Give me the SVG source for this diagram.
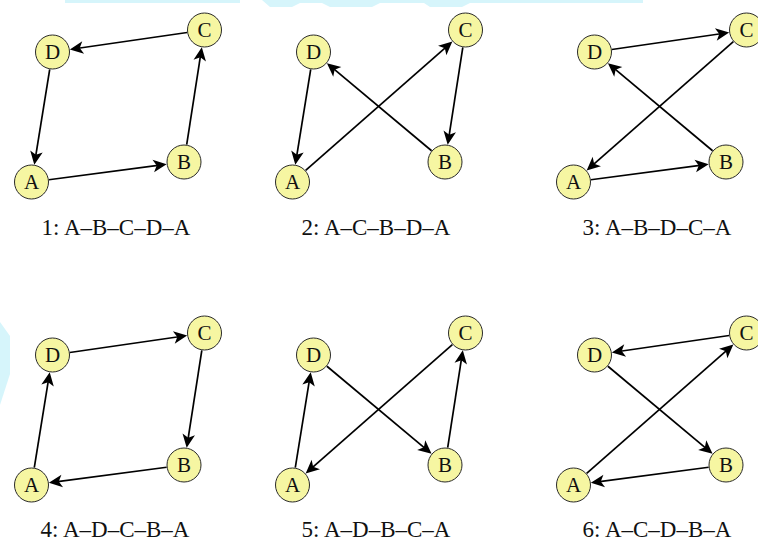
<svg xmlns="http://www.w3.org/2000/svg" width="758" height="543" viewBox="0 0 758 543">
  <style>
    .node circle { fill: #f6f6a2; stroke: #2a2a2a; stroke-width: 1; }
    .node text { font-family: "Liberation Serif", "DejaVu Serif", serif; font-size: 21px; fill: #111; text-anchor: middle; }
    .edges line { stroke: #000; stroke-width: 1.7; fill: none; marker-end: url(#stealth); }
    .caption { font-family: "Liberation Serif", "DejaVu Serif", serif; font-size: 23px; fill: #111; text-anchor: middle; }
    .wash { fill: #d6f5fb; }
  </style>
  <defs>
    <marker id="stealth" viewBox="0 -8 16 16" refX="9" refY="0" markerWidth="16" markerHeight="16" markerUnits="userSpaceOnUse" orient="auto">
      <path d="M14,0 L0.5,-6.3 L4,0 L0.5,6.3 Z" fill="#000"/>
    </marker>
    <!-- the four vertices, shared by every tour -->
    <g id="vA" class="node"><circle cx="31.5" cy="182" r="17"/><text x="31.5" y="189">A</text></g>
    <g id="vB" class="node"><circle cx="184" cy="162" r="17"/><text x="184" y="169">B</text></g>
    <g id="vC" class="node"><circle cx="204.5" cy="30" r="17"/><text x="204.5" y="37">C</text></g>
    <g id="vD" class="node"><circle cx="52.5" cy="52" r="17"/><text x="52.5" y="59">D</text></g>
  </defs>

  <rect width="758" height="543" fill="#ffffff"/>

  <!-- faint background wash -->
  <g id="wash">
    <rect class="wash" x="65" y="0" width="175" height="3"/>
    <path class="wash" d="M262,0 H520 V3 H470 L462,7 H430 L424,3 H380 L372,7 H330 L322,3 H300 L292,7 H270 Z"/>
    <rect class="wash" x="510" y="0" width="133" height="3"/>
    <polygon class="wash" points="0,322 10,336 10,374 0,405"/>
  </g>

  <!-- 1: A-B-C-D-A -->
  <g id="tour1">
    <g class="edges">
      <line x1="48.85" y1="179.72" x2="161.69" y2="164.93"/>
      <line x1="186.69" y1="144.71" x2="201.05" y2="52.23"/>
      <line x1="187.18" y1="32.51" x2="74.77" y2="48.78"/>
      <line x1="49.71" y1="69.28" x2="35.09" y2="159.79"/>
    </g>
    <use id="t1-A" href="#vA"/><use id="t1-B" href="#vB"/><use id="t1-C" href="#vC"/><use id="t1-D" href="#vD"/>
    <text class="caption" x="116" y="235">1: A–B–C–D–A</text>
  </g>

  <!-- 2: A-C-B-D-A -->
  <g id="tour2" transform="translate(261,0)">
    <g class="edges">
      <line x1="44.65" y1="170.45" x2="187.60" y2="44.85"/>
      <line x1="201.81" y1="47.29" x2="187.45" y2="139.77"/>
      <line x1="170.58" y1="150.77" x2="69.76" y2="66.44"/>
      <line x1="49.71" y1="69.28" x2="35.09" y2="159.79"/>
    </g>
    <use id="t2-A" href="#vA"/><use id="t2-B" href="#vB"/><use id="t2-C" href="#vC"/><use id="t2-D" href="#vD"/>
    <text class="caption" x="115" y="235">2: A–C–B–D–A</text>
  </g>

  <!-- 3: A-B-D-C-A -->
  <g id="tour3" transform="translate(542,0)">
    <g class="edges">
      <line x1="48.85" y1="179.72" x2="161.69" y2="164.93"/>
      <line x1="170.58" y1="150.77" x2="69.76" y2="66.44"/>
      <line x1="69.82" y1="49.49" x2="182.23" y2="33.22"/>
      <line x1="191.35" y1="41.55" x2="48.40" y2="167.15"/>
    </g>
    <use id="t3-A" href="#vA"/><use id="t3-B" href="#vB"/><use id="t3-C" href="#vC"/><use id="t3-D" href="#vD"/>
    <text class="caption" x="115" y="235">3: A–B–D–C–A</text>
  </g>

  <!-- 4: A-D-C-B-A -->
  <g id="tour4" transform="translate(0,303)">
    <g class="edges">
      <line x1="34.29" y1="164.72" x2="48.91" y2="74.21"/>
      <line x1="69.82" y1="49.49" x2="182.23" y2="33.22"/>
      <line x1="201.81" y1="47.29" x2="187.45" y2="139.77"/>
      <line x1="166.65" y1="164.28" x2="53.81" y2="179.08"/>
    </g>
    <use id="t4-A" href="#vA"/><use id="t4-B" href="#vB"/><use id="t4-C" href="#vC"/><use id="t4-D" href="#vD"/>
    <text class="caption" x="115" y="234">4: A–D–C–B–A</text>
  </g>

  <!-- 5: A-D-B-C-A -->
  <g id="tour5" transform="translate(261,303)">
    <g class="edges">
      <line x1="34.29" y1="164.72" x2="48.91" y2="74.21"/>
      <line x1="65.92" y1="63.23" x2="166.74" y2="147.56"/>
      <line x1="186.69" y1="144.71" x2="201.05" y2="52.23"/>
      <line x1="191.35" y1="41.55" x2="48.40" y2="167.15"/>
    </g>
    <use id="t5-A" href="#vA"/><use id="t5-B" href="#vB"/><use id="t5-C" href="#vC"/><use id="t5-D" href="#vD"/>
    <text class="caption" x="115" y="234">5: A–D–B–C–A</text>
  </g>

  <!-- 6: A-C-D-B-A -->
  <g id="tour6" transform="translate(542,303)">
    <g class="edges">
      <line x1="44.65" y1="170.45" x2="187.60" y2="44.85"/>
      <line x1="187.18" y1="32.51" x2="74.77" y2="48.78"/>
      <line x1="65.92" y1="63.23" x2="166.74" y2="147.56"/>
      <line x1="166.65" y1="164.28" x2="53.81" y2="179.08"/>
    </g>
    <use id="t6-A" href="#vA"/><use id="t6-B" href="#vB"/><use id="t6-C" href="#vC"/><use id="t6-D" href="#vD"/>
    <text class="caption" x="115" y="234">6: A–C–D–B–A</text>
  </g>
</svg>
